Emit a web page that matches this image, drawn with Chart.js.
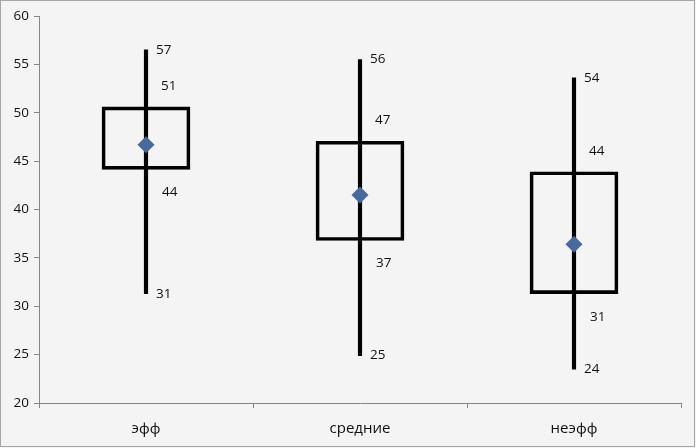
<!DOCTYPE html>
<html>
<head>
<meta charset="utf-8">
<script src="https://cdn.jsdelivr.net/npm/chart.js@4"></script>
<style>
  html, body { margin: 0; padding: 0; background: #f4f4f4; }
  #wrap { width: 696px; height: 448px; }
</style>
</head>
<body>
<div id="wrap"><canvas id="chart"></canvas></div>
<script>
// values
let categories = ['эфф', 'средние', 'неэфф'];
let highs = [56.5, 55.5, 53.6];
let lows = [31.3, 24.9, 23.5];
let boxTops = [50.6, 47.05, 43.9];
let boxBottoms = [44.15, 36.8, 31.3];
let means = [46.7, 41.5, 36.4];
let yTicks = [20, 25, 30, 35, 40, 45, 50, 55, 60];

let bg = {
  id: 'bg',
  beforeDraw(c) {
    let ctx = c.ctx;
    ctx.save();
    ctx.fillStyle = '#f4f4f4';
    ctx.fillRect(0, 0, c.width, c.height);
    ctx.strokeStyle = '#a6a6a6';
    ctx.lineWidth = 1;
    ctx.strokeRect(0.5, 0.5, c.width - 2, c.height - 2);
    ctx.restore();
  }
};

// value labels beside the whiskers and boxes
let valueLabels = {
  id: 'valueLabels',
  afterDatasetsDraw(c) {
    let ctx = c.ctx, x = c.scales.x, y = c.scales.y;
    ctx.save();
    ctx.font = '13.5px "Open Sans", sans-serif';
    ctx.fillStyle = '#111';
    ctx.textAlign = 'left';
    ctx.textBaseline = 'middle';
    categories.forEach((cat, i) => {
      let cx = x.getPixelForValue(i);
      ctx.fillText(Math.round(highs[i]), cx + 10, y.getPixelForValue(highs[i]));
      ctx.fillText(Math.round(lows[i]), cx + 10, y.getPixelForValue(lows[i]));
      ctx.fillText(Math.round(boxTops[i]), cx + 15, y.getPixelForValue(boxTops[i]) - 21);
      ctx.fillText(Math.round(boxBottoms[i]), cx + 16, y.getPixelForValue(boxBottoms[i]) + 23);
    });
    ctx.restore();
  }
};

let chartCanv = document.getElementById('chart').getContext('2d');

let chart = new Chart(chartCanv, {
  type: 'bar',
  plugins: [bg, valueLabels],
  data: {
    labels: categories,
    datasets: [
      {
        type: 'line',
        data: means,
        showLine: false,
        pointStyle: 'rectRot',
        pointRadius: 8.5,
        pointBackgroundColor: '#46699e',
        pointBorderColor: '#46699e',
        pointBorderWidth: 0,
        order: 0
      },
      {
        data: categories.map((c, i) => [lows[i], highs[i]]),
        backgroundColor: '#000',
        barThickness: 3.5,
        grouped: false,
        order: 1
      },
      {
        data: categories.map((c, i) => [boxBottoms[i], boxTops[i]]),
        backgroundColor: 'rgba(0,0,0,0)',
        borderColor: '#000',
        borderWidth: 3,
        borderSkipped: false,
        barThickness: 88,
        grouped: false,
        order: 2
      }
    ]
  },
  options: {
    responsive: true,
    maintainAspectRatio: false,
    animation: false,
    layout: { padding: { left: 0, top: 16, right: 15, bottom: 0 } },
    plugins: { legend: { display: false }, tooltip: { enabled: false } },
    scales: {
      x: {
        grid: { display: true, drawOnChartArea: false, offset: true, tickLength: 5, color: '#868686' },
        border: { display: true, color: '#868686', width: 1 },
        ticks: { font: { size: 15, family: '"Open Sans", sans-serif' }, color: '#111', padding: 12 },
        afterFit(s) { s.height = 45; }
      },
      y: {
        min: 20,
        max: 60,
        afterBuildTicks(s) { s.ticks = yTicks.map(v => ({ value: v })); },
        grid: { display: true, drawOnChartArea: false, tickLength: 5, color: '#868686' },
        border: { display: true, color: '#868686', width: 1 },
        ticks: { font: { size: 13.5, family: '"Open Sans", sans-serif' }, color: '#111', padding: 5 },
        afterFit(s) { s.width = 39; }
      }
    }
  }
});
</script>
</body>
</html>
